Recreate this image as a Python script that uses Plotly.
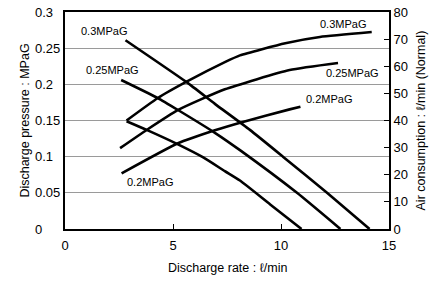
import plotly.graph_objects as go

# Discharge pressure curves (left axis, MPaG)
p03_x = [2.8, 5.63, 6.94, 8.56, 10.09, 12.13, 14.1]
p03_y = [0.261, 0.203, 0.173, 0.137, 0.100, 0.050, 0.0]
p025_x = [2.6, 4.3, 5.23, 6.94, 8.1, 10.74, 12.75]
p025_y = [0.206, 0.181, 0.1645, 0.133, 0.109, 0.050, 0.0]
p02_x = [2.85, 3.78, 5.23, 6.4, 7.4, 8.1, 9.5, 10.95]
p02_y = [0.149, 0.137, 0.117, 0.099, 0.080, 0.067, 0.034, 0.0]

# Air consumption curves (right axis, l/min Normal)
a03_x = [2.85, 4.3, 5.63, 7.4, 8.1, 10.2, 11.8, 14.2]
a03_y = [40, 48.3, 54.3, 61.5, 64.0, 68.5, 70.8, 72.6]
a025_x = [2.55, 3.78, 5.24, 7.4, 10.4, 12.64]
a025_y = [29.8, 36.5, 43.9, 51.5, 58.6, 61.2]
a02_x = [2.62, 5.23, 6.94, 8.19, 10.4, 10.9]
a02_y = [20.5, 31.6, 36.4, 39.4, 44.1, 45.1]

labels = ["0.3MPaG", "0.25MPaG", "0.2MPaG"]
left_tick_vals = [0, 0.05, 0.1, 0.15, 0.2, 0.25, 0.3]
left_tick_text = ["0", "0.05", "0.1", "0.15", "0.2", "0.25", "0.3"]

FONT = "Liberation Sans, Arial, sans-serif"
line = dict(color="black", width=2.6, shape="spline", smoothing=0.5)

fig = go.Figure()
for xs, ys in [(p03_x, p03_y), (p025_x, p025_y), (p02_x, p02_y)]:
    fig.add_trace(go.Scatter(x=xs, y=ys, mode="lines", line=line, yaxis="y",
                             showlegend=False, cliponaxis=False, hoverinfo="skip"))
for xs, ys in [(a03_x, a03_y), (a025_x, a025_y), (a02_x, a02_y)]:
    fig.add_trace(go.Scatter(x=xs, y=ys, mode="lines", line=line, yaxis="y2",
                             showlegend=False, cliponaxis=False, hoverinfo="skip"))

# curve labels
lab_pos = [(1.81, 0.274), (2.18, 0.220), (3.94, 0.065),
           (12.87, 0.283), (13.29, 0.216), (12.22, 0.180)]
for i, (lx, ly) in enumerate(lab_pos):
    fig.add_annotation(x=lx, y=ly, xref="x", yref="y", text=labels[i % 3],
                       showarrow=False, font=dict(family=FONT, size=11, color="black"))

# left tick labels (left-aligned as in the original)
for v, t in zip(left_tick_vals, left_tick_text):
    fig.add_annotation(x=-0.1003, y=v, xref="paper", yref="y", text=t,
                       xanchor="left", showarrow=False,
                       font=dict(family=FONT, size=13, color="black"))

# axis titles
fig.add_annotation(x=-0.154, y=0.5, xref="paper", yref="paper",
                   text="Discharge pressure : MPaG", textangle=-90, showarrow=False,
                   font=dict(family=FONT, size=12.5, color="black"))
fig.add_annotation(x=1.1265, y=0.5, xref="paper", yref="paper",
                   text="Air consumption : ℓ/min (Normal)", textangle=-90, showarrow=False,
                   font=dict(family=FONT, size=12.5, color="black"))
fig.add_annotation(x=0.5, y=-0.221, xref="paper", yref="paper",
                   text="Discharge rate : ℓ/min", showarrow=False,
                   font=dict(family=FONT, size=12.5, color="black"))

fig.update_layout(
    width=438, height=289,
    margin=dict(l=65, r=49, t=12, b=60),
    paper_bgcolor="white", plot_bgcolor="white",
    font=dict(family=FONT, size=13, color="black"),
    hovermode=False,
    xaxis=dict(range=[0, 15], dtick=5, showgrid=False, zeroline=False,
               showline=True, linecolor="black", linewidth=2, mirror=True,
               ticks="inside", ticklen=5, tickcolor="black", automargin=False,
               ticklabelstandoff=3, tickfont=dict(size=13)),
    yaxis=dict(range=[0, 0.3], dtick=0.05, showgrid=True, gridcolor="#9a9a9a",
               gridwidth=1, zeroline=False, showline=True, linecolor="black",
               linewidth=2, mirror=True, ticks="", showticklabels=False,
               automargin=False),
    yaxis2=dict(range=[0, 80], dtick=10, overlaying="y", side="right",
                showgrid=False, zeroline=False, showline=True, linecolor="black",
                linewidth=2, ticks="inside", ticklen=5, tickcolor="black",
                automargin=False, ticklabeloverflow="allow",
                tickfont=dict(size=13)),
)

fig.write_html("out.html", config={"displayModeBar": False},
               post_script="document.body.style.margin='0px';"
                           "document.body.style.overflow='hidden';")
